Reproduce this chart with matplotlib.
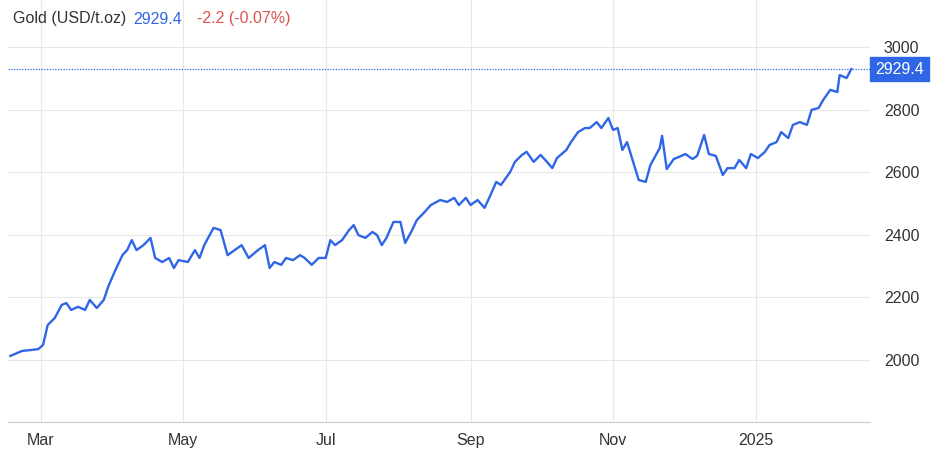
import matplotlib
matplotlib.use("Agg")
import matplotlib.pyplot as plt
import pandas as pd

plt.rcParams['font.family'] = ['Liberation Sans', 'DejaVu Sans']

dates = ["2024-02-17","2024-02-22","2024-02-26","2024-02-29","2024-03-02","2024-03-04","2024-03-07","2024-03-10","2024-03-12","2024-03-14",
"2024-03-17","2024-03-20","2024-03-22","2024-03-25","2024-03-28","2024-03-30","2024-04-02","2024-04-05","2024-04-07","2024-04-09",
"2024-04-11","2024-04-14","2024-04-17","2024-04-19","2024-04-22","2024-04-25","2024-04-27","2024-04-29","2024-05-03","2024-05-06",
"2024-05-08","2024-05-10","2024-05-14","2024-05-17","2024-05-20","2024-05-23","2024-05-26","2024-05-29","2024-06-02","2024-06-05",
"2024-06-07","2024-06-09","2024-06-12","2024-06-14","2024-06-17","2024-06-20","2024-06-22","2024-06-25","2024-06-28","2024-07-01",
"2024-07-03","2024-07-05","2024-07-08","2024-07-11","2024-07-13","2024-07-15","2024-07-18","2024-07-21","2024-07-23","2024-07-25",
"2024-07-27","2024-07-30","2024-08-02","2024-08-04","2024-08-07","2024-08-09","2024-08-12","2024-08-15","2024-08-19","2024-08-22",
"2024-08-25","2024-08-27","2024-08-30","2024-09-01","2024-09-04","2024-09-07","2024-09-09","2024-09-12","2024-09-14","2024-09-18",
"2024-09-20","2024-09-23","2024-09-25","2024-09-28","2024-10-01","2024-10-03","2024-10-06","2024-10-08","2024-10-12","2024-10-14",
"2024-10-17","2024-10-20","2024-10-22","2024-10-25","2024-10-27","2024-10-30","2024-11-01","2024-11-03","2024-11-05","2024-11-07",
"2024-11-10","2024-11-12","2024-11-15","2024-11-17","2024-11-21","2024-11-22","2024-11-24","2024-11-27","2024-11-29","2024-12-02",
"2024-12-05","2024-12-07","2024-12-10","2024-12-12","2024-12-15","2024-12-18","2024-12-20","2024-12-23","2024-12-25","2024-12-28",
"2024-12-30","2025-01-02","2025-01-05","2025-01-07","2025-01-10","2025-01-12","2025-01-15","2025-01-17","2025-01-20","2025-01-23",
"2025-01-25","2025-01-28","2025-01-30","2025-02-02","2025-02-05","2025-02-06","2025-02-09","2025-02-11"]
prices = [2013,2029,2032,2035,2048,2112,2134,2176,2182,2160,
2170,2160,2192,2166,2192,2236,2288,2335,2351,2383,
2351,2367,2390,2326,2313,2326,2294,2319,2313,2351,
2326,2367,2422,2415,2335,2351,2367,2326,2351,2367,
2294,2313,2304,2326,2319,2335,2326,2304,2326,2326,
2383,2367,2383,2415,2431,2399,2390,2409,2399,2367,
2390,2441,2441,2374,2415,2447,2470,2495,2511,2505,
2518,2495,2518,2495,2511,2486,2518,2569,2559,2601,
2633,2655,2665,2633,2655,2639,2613,2645,2671,2696,
2728,2741,2741,2760,2741,2773,2735,2741,2671,2696,
2623,2575,2569,2623,2677,2716,2610,2642,2648,2658,
2642,2652,2719,2658,2652,2591,2613,2613,2639,2613,
2658,2645,2665,2687,2696,2728,2709,2751,2760,2751,
2799,2805,2831,2863,2856,2910,2901,2929.4]
last = 2929.4
change = "-2.2 (-0.07%)"
yticks = [2000, 2200, 2400, 2600, 2800, 3000]
xtick_dates = ["2024-03-01","2024-05-01","2024-07-01","2024-09-01","2024-11-01","2025-01-01"]
xtick_labels = ["Mar","May","Jul","Sep","Nov","2025"]

d = pd.to_datetime(dates)
blue = "#2f66e6"
fig = plt.figure(figsize=(9.42, 4.53), dpi=100)
ax = fig.add_axes([8/942, 1-422/453, 862/942, 422/453])
ax.plot(d, prices, color=blue, lw=1.7)
ax.set_ylim(1802, 3150)
ax.set_xlim(pd.Timestamp("2024-02-16"), pd.Timestamp("2025-02-19"))
ax.axhline(last, color=blue, lw=0.9, ls=(0, (1, 1.2)))
ax.yaxis.tick_right()
ax.set_yticks(yticks)
ax.set_yticklabels([str(v) for v in yticks], fontsize=11.5, color="#333333")
xt = pd.to_datetime(xtick_dates)
ax.set_xticks(xt)
ax.set_xticklabels(xtick_labels, fontsize=11.5, color="#333333")
ax.tick_params(length=0, pad=8)
ax.tick_params(axis="y", pad=10)
ax.grid(True, color="#e8e8e8", lw=0.8)
for s in ["top", "left", "right"]:
    ax.spines[s].set_visible(False)
ax.spines["bottom"].set_color("#cccccc")
ax.text(1.006, last, f"{last}", transform=ax.get_yaxis_transform(), va="center", ha="left",
        fontsize=11.5, color="white", bbox=dict(boxstyle="square,pad=0.3", fc=blue, ec=blue))
fig.text(13/942, 1-19/453, "Gold (USD/t.oz)", fontsize=11.5, color="#333333", va="center")
fig.text(133/942, 1-19/453, f"{last}", fontsize=11.5, color=blue, va="center")
fig.text(197/942, 1-19/453, change, fontsize=11.5, color="#d9534f", va="center")
fig.savefig("out.png", dpi=100, facecolor="white")
